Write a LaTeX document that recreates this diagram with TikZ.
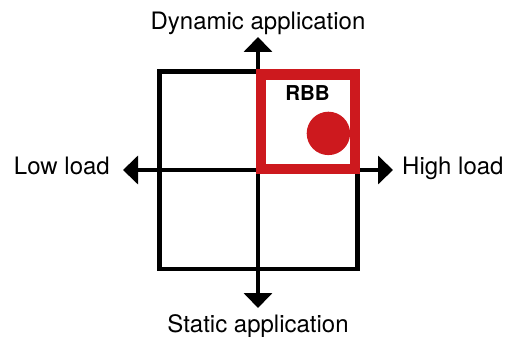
\documentclass[tikz,border=0pt]{standalone}
\usepackage{fontspec}
\setmainfont{TeX Gyre Heros}
\usetikzlibrary{arrows.meta}
\definecolor{rbbred}{RGB}{205,25,30}

\begin{document}
\begin{tikzpicture}[x=1pt, y=-1pt,
    axis/.style={line width=4.5pt, -{Triangle[length=15pt,width=28pt]}},
    lbl/.style={font=\fontsize{24}{28}\selectfont, inner sep=0pt}]
    \useasboundingbox (0,0) rectangle (506,337);
    % axes ends
    \coordinate (o) at (258,170);
    \coordinate (n) at (258,37);
    \coordinate (s) at (258,308);
    \coordinate (w) at (123,170);
    \coordinate (e) at (393,170);
    \draw[line width=4.5pt]
        (159.7,71.3) rectangle (357.7,269.2);
    \draw[axis] (o) -- (n);
    \draw[axis] (o) -- (s);
    \draw[axis] (o) -- (w);
    \draw[axis] (o) -- (e);
    % red quadrant
    \fill[rbbred] (328.4,133.4) circle (21.7);
    \draw[rbbred, line width=10.5pt]
        (261,74.7) rectangle (355,169);
    \node[font=\bfseries\fontsize{20.5}{24}\selectfont, anchor=base,
        inner sep=0pt] (rbb) at (307.5,100) {RBB};
    % labels
    \node[lbl, anchor=base] (dyn) at (258,29.5) {Dynamic application};
    \node[lbl, anchor=base] (stat) at (258,332) {Static application};
    \node[lbl, anchor=base east] (low) at (110,174) {Low load};
    \node[lbl, anchor=base west] (high) at (402,174) {High load};
\end{tikzpicture}
\end{document}
